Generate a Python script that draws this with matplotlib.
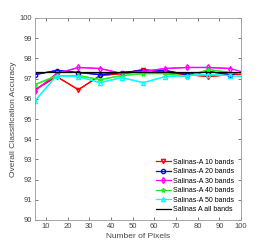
import matplotlib
matplotlib.use('Agg')
import matplotlib.pyplot as plt

pixels = [5, 15, 25, 35, 45, 55, 65, 75, 85, 95, 100]
acc_10 = [96.45, 97.1, 96.45, 97.15, 97.25, 97.45, 97.3, 97.2, 97.1, 97.2, 97.2]
acc_20 = [97.2, 97.4, 97.3, 97.2, 97.3, 97.4, 97.4, 97.2, 97.35, 97.2, 97.3]
acc_30 = [96.4, 97.25, 97.55, 97.5, 97.25, 97.35, 97.5, 97.55, 97.55, 97.5, 97.35]
acc_40 = [96.7, 97.15, 97.15, 96.95, 97.15, 97.25, 97.25, 97.1, 97.45, 97.3, 97.25]
acc_50 = [95.9, 97.15, 97.1, 96.8, 97.05, 96.8, 97.1, 97.15, 97.2, 97.15, 97.1]
acc_all = [97.35] * len(pixels)

plt.rcParams['font.family'] = ['Liberation Sans Narrow', 'Liberation Sans', 'DejaVu Sans']

fig = plt.figure(figsize=(2.66, 2.48), dpi=100)
ax = fig.add_axes([35 / 266, 28 / 248, 206 / 266, 202 / 248])

ms = 3
lw = 0.9
ax.plot(pixels[:-1], acc_10[:-1], 'v-', color='red', ms=ms, lw=lw, mfc='none', label='Salinas-A 10 bands')
ax.plot(pixels, acc_10, '-', color='red', lw=lw)
ax.plot(pixels[:-1], acc_20[:-1], 'o-', color='blue', ms=ms, lw=lw, mfc='none', label='Salinas-A 20 bands')
ax.plot(pixels, acc_20, '-', color='blue', lw=lw)
ax.plot(pixels[:-1], acc_30[:-1], 'd-', color='magenta', ms=ms, lw=lw, mfc='none', label='Salinas-A 30 bands')
ax.plot(pixels, acc_30, '-', color='magenta', lw=lw)
ax.plot(pixels[:-1], acc_40[:-1], '*-', color='#22ee22', ms=ms, lw=lw, label='Salinas-A 40 bands')
ax.plot(pixels, acc_40, '-', color='#22ee22', lw=lw)
ax.plot(pixels[:-1], acc_50[:-1], '^-', color='cyan', ms=ms, lw=lw, mfc='none', label='Salinas-A 50 bands')
ax.plot(pixels, acc_50, '-', color='cyan', lw=lw)
ax.plot(pixels, acc_all, '-', color='black', lw=lw, label='Salinas A all bands')

ax.set_xlim(5, 100)
ax.set_ylim(90, 100)
ax.set_xticks(range(10, 101, 10))
ax.set_yticks(range(90, 101, 1))
ax.tick_params(direction='in', length=2, width=0.5, labelsize=5.5, colors='#444444',
               top=True, right=True, pad=2)
for s in ax.spines.values():
    s.set_color('#999999')
    s.set_linewidth(0.6)

ax.set_xlabel('Number of Pixels', fontsize=6, color='#444444', labelpad=2)
ax.set_ylabel('Overall Classification Accuracy', fontsize=6, color='#444444', labelpad=2)

leg = ax.legend(loc='lower right', fontsize=5, frameon=False, handlelength=2.2,
                handletextpad=0.3, labelspacing=0.35, borderaxespad=0.6)

fig.savefig('out.png', dpi=100, facecolor='white')
